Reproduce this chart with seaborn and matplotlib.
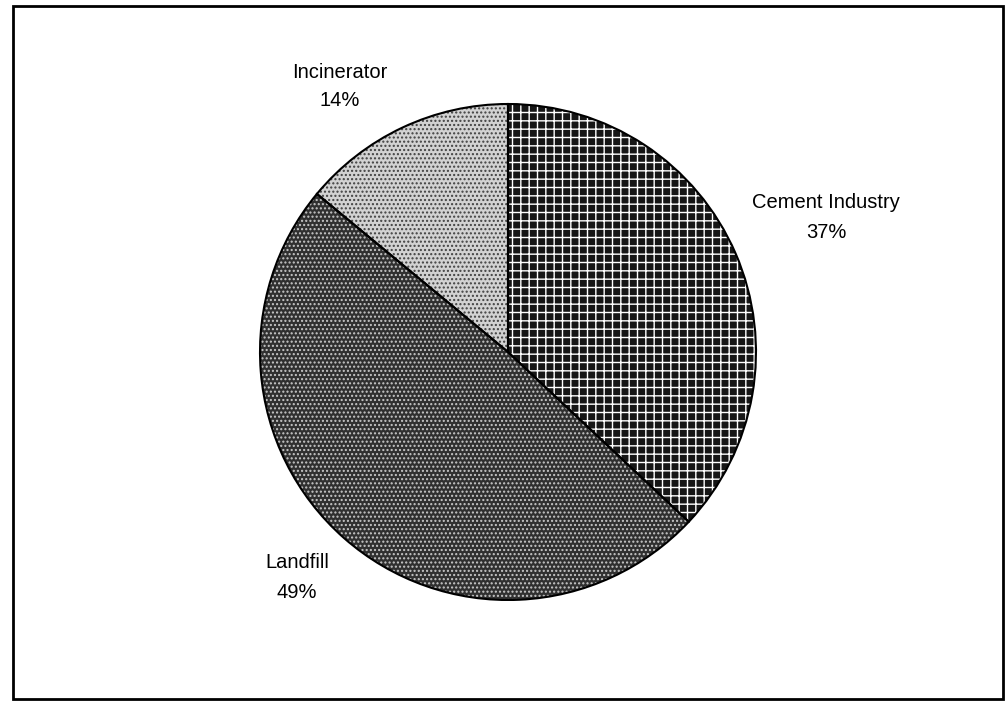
import seaborn as sns
import matplotlib.pyplot as plt
from matplotlib.patches import Rectangle

sns.set_theme(style="white")
plt.rcParams['font.family'] = ['Liberation Sans', 'DejaVu Sans']

# shares of waste destination
labels = ['Cement Industry', 'Landfill', 'Incinerator']
shares = [37, 49, 14]
faces = ['#161616', '#303030', '#d2d2d2']
hatch_colors = ['white', '#c8c8c8', '#404040']
hatches = ['++', '....', '....']

H = 704
fig = plt.figure(figsize=(10.05, 7.04), dpi=100)
ax = fig.add_axes([0, 0, 1, 1])

center = (508, H - 352)
wedges, _ = ax.pie(shares, startangle=90, counterclock=False, center=center,
                   radius=248, colors=faces, frame=True)
for w, h, hc in zip(wedges, hatches, hatch_colors):
    w.set_hatch(h)
    w.set_edgecolor(hc)
    w.set_linewidth(0)
# outlines
ax.pie(shares, startangle=90, counterclock=False, center=center,
       radius=248, frame=True,
       wedgeprops=dict(fill=False, edgecolor='black', linewidth=1.5))
ax.set_xlim(0, 1005)
ax.set_ylim(0, H)
ax.set_aspect('equal')
ax.axis('off')

ax.add_patch(Rectangle((13, 5), 990, 693, fill=False, edgecolor='black', linewidth=2))

txt = dict(fontsize=14.5, color='black', va='center', ha='center')
ax.text(340, H - 72, labels[2], **txt)
ax.text(340, H - 100, f'{shares[2]}%', **txt)
ax.text(826, H - 203, labels[0], **txt)
ax.text(826, H - 233, f'{shares[0]}%', **txt)
ax.text(297, H - 563, labels[1], **txt)
ax.text(297, H - 592, f'{shares[1]}%', **txt)

fig.savefig('out.png', dpi=100)
